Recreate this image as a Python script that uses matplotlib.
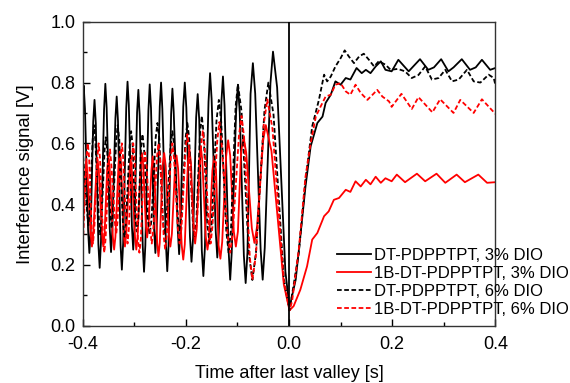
import matplotlib
matplotlib.use("Agg")
import matplotlib.pyplot as plt
from matplotlib.ticker import MultipleLocator

plt.rcParams['font.family'] = ['Liberation Sans', 'DejaVu Sans']

# ---- data ----
labels = ["DT-PDPPTPT, 3% DIO", "1B-DT-PDPPTPT, 3% DIO",
          "DT-PDPPTPT, 6% DIO", "1B-DT-PDPPTPT, 6% DIO"]

# DT-PDPPTPT, 3% DIO (black solid)
t_dt3 = [-0.400, -0.398, -0.3955,
         -0.3895, -0.387, -0.3845,
         -0.3795, -0.377, -0.3745,
         -0.3695, -0.367, -0.3645,
         -0.3585, -0.356, -0.3535,
         -0.3475, -0.345, -0.3425,
         -0.3365, -0.334, -0.3315,
         -0.3265, -0.324, -0.3215,
         -0.3155, -0.313, -0.3105,
         -0.3045, -0.302, -0.2995,
         -0.2945, -0.292, -0.2895,
         -0.2835, -0.281, -0.2785,
         -0.2725, -0.270, -0.2675,
         -0.2615, -0.259, -0.2565,
         -0.2505, -0.248, -0.2455,
         -0.2385, -0.236, -0.2335,
         -0.2285, -0.226, -0.2235,
         -0.2155, -0.213, -0.2105,
         -0.205, -0.202, -0.199,
         -0.192, -0.189, -0.186,
         -0.180, -0.177, -0.174,
         -0.169, -0.166, -0.163,
         -0.156, -0.153, -0.150,
         -0.142, -0.139, -0.136,
         -0.131, -0.128, -0.125,
         -0.117, -0.114, -0.111,
         -0.1025, -0.099, -0.0955,
         -0.0875, -0.084, -0.0805,
         -0.0745, -0.070, -0.0655,
         -0.055, -0.051, -0.047,
         -0.036, -0.031, -0.023,
         -0.007, 0.001,
         0.013, 0.022, 0.032, 0.042, 0.055, 0.065, 0.071, 0.081, 0.090, 0.100,
         0.110, 0.119, 0.131, 0.141, 0.149, 0.158, 0.168, 0.178, 0.187, 0.199,
         0.212, 0.232, 0.242, 0.254, 0.270, 0.281, 0.295, 0.309, 0.319, 0.335,
         0.351, 0.362, 0.374, 0.390, 0.400]
v_dt3 = [0.62, 0.79, 0.713,
         0.316, 0.239, 0.310,
         0.672, 0.743, 0.666,
         0.267, 0.190, 0.275,
         0.711, 0.796, 0.718,
         0.320, 0.242, 0.314,
         0.682, 0.754, 0.674,
         0.264, 0.184, 0.271,
         0.716, 0.803, 0.726,
         0.327, 0.250, 0.324,
         0.702, 0.776, 0.692,
         0.261, 0.177, 0.263,
         0.708, 0.794, 0.716,
         0.317, 0.239, 0.318,
         0.721, 0.800, 0.713,
         0.266, 0.179, 0.263,
         0.696, 0.780, 0.704,
         0.311, 0.235, 0.314,
         0.721, 0.800, 0.717,
         0.293, 0.210, 0.287,
         0.685, 0.762, 0.678,
         0.247, 0.163, 0.257,
         0.737, 0.831, 0.746,
         0.309, 0.224, 0.307,
         0.737, 0.820, 0.726,
         0.245, 0.151, 0.241,
         0.703, 0.793, 0.702,
         0.231, 0.140, 0.241,
         0.763, 0.864, 0.764,
         0.251, 0.151, 0.256,
         0.797, 0.902, 0.784,
         0.178, 0.060,
         0.151, 0.294, 0.458, 0.59, 0.667, 0.688, 0.733, 0.76, 0.804, 0.793,
         0.815, 0.81, 0.848, 0.831, 0.842, 0.831, 0.853, 0.87, 0.842, 0.837,
         0.875, 0.837, 0.855, 0.877, 0.842, 0.85, 0.877, 0.837, 0.85, 0.877,
         0.842, 0.85, 0.875, 0.842, 0.848]

# 1B-DT-PDPPTPT, 3% DIO (red solid)
t_1b3 = [-0.400,
         -0.3955, -0.393, -0.3905,
         -0.3845, -0.382, -0.3795,
         -0.3735, -0.371, -0.3685,
         -0.3625, -0.360, -0.3575,
         -0.3525, -0.350, -0.3475,
         -0.3415, -0.339, -0.3365,
         -0.3305, -0.328, -0.3255,
         -0.3205, -0.318, -0.3155,
         -0.3095, -0.307, -0.3045,
         -0.2985, -0.296, -0.2935,
         -0.2875, -0.285, -0.2825,
         -0.2775, -0.275, -0.2725,
         -0.2665, -0.264, -0.2615,
         -0.2555, -0.253, -0.2505,
         -0.245, -0.242, -0.239,
         -0.233, -0.230, -0.227,
         -0.221, -0.218, -0.215,
         -0.208, -0.205, -0.202,
         -0.196, -0.193, -0.190,
         -0.185, -0.182, -0.179,
         -0.174, -0.171, -0.168,
         -0.1615, -0.158, -0.1545,
         -0.1485, -0.145, -0.1415,
         -0.1365, -0.133, -0.1295,
         -0.122, -0.118, -0.114,
         -0.107, -0.103, -0.099,
         -0.093, -0.088, -0.083,
         -0.072, -0.067, -0.062,
         -0.050, -0.045, -0.034,
         -0.010, 0.001,
         0.009, 0.022, 0.035, 0.045, 0.055, 0.068, 0.077, 0.087, 0.097, 0.110,
         0.119, 0.129, 0.139, 0.149, 0.158, 0.168, 0.178, 0.187, 0.199, 0.209,
         0.225, 0.248, 0.264, 0.286, 0.303, 0.325, 0.341, 0.367, 0.384, 0.400]
v_1b3 = [0.28,
         0.498, 0.540, 0.498,
         0.302, 0.260, 0.302,
         0.504, 0.546, 0.504,
         0.302, 0.260, 0.302,
         0.515, 0.557, 0.515,
         0.292, 0.250, 0.292,
         0.531, 0.573, 0.531,
         0.302, 0.260, 0.302,
         0.504, 0.546, 0.504,
         0.292, 0.250, 0.292,
         0.526, 0.568, 0.526,
         0.330, 0.290, 0.330,
         0.515, 0.557, 0.515,
         0.272, 0.228, 0.272,
         0.526, 0.568, 0.526,
         0.302, 0.260, 0.302,
         0.517, 0.560, 0.517,
         0.265, 0.217, 0.267,
         0.535, 0.580, 0.535,
         0.315, 0.270, 0.315,
         0.545, 0.590, 0.543,
         0.295, 0.250, 0.294,
         0.510, 0.557, 0.510,
         0.265, 0.220, 0.275,
         0.555, 0.610, 0.560,
         0.310, 0.260, 0.310,
         0.570, 0.620, 0.570,
         0.320, 0.272, 0.325,
         0.610, 0.660, 0.575,
         0.135, 0.050,
         0.064, 0.118, 0.195, 0.283, 0.305, 0.36, 0.376, 0.414, 0.42, 0.447,
         0.44, 0.475, 0.458, 0.48, 0.465, 0.49, 0.47, 0.485, 0.475, 0.497,
         0.472, 0.50, 0.475, 0.50, 0.47, 0.497, 0.472, 0.497, 0.47, 0.472]

# DT-PDPPTPT, 6% DIO (black dashed)
t_dt6 = [-0.400,
         -0.3915, -0.389, -0.3865,
         -0.3805, -0.378, -0.3755,
         -0.3685, -0.366, -0.3635,
         -0.3575, -0.355, -0.3525,
         -0.3465, -0.344, -0.3415,
         -0.335, -0.332, -0.329,
         -0.322, -0.319, -0.316,
         -0.309, -0.306, -0.303,
         -0.298, -0.295, -0.292,
         -0.287, -0.284, -0.281,
         -0.2735, -0.270, -0.2665,
         -0.2585, -0.255, -0.2515,
         -0.2445, -0.241, -0.2375,
         -0.2295, -0.226, -0.2225,
         -0.2155, -0.212, -0.2085,
         -0.2005, -0.197, -0.1935,
         -0.1865, -0.183, -0.1795,
         -0.1725, -0.169, -0.1655,
         -0.158, -0.154, -0.150,
         -0.1405, -0.136, -0.1315,
         -0.1215, -0.117, -0.1125,
         -0.1035, -0.099, -0.092,
         -0.078, -0.071, -0.064,
         -0.0475, -0.040, -0.030,
         -0.010, 0.001,
         0.019, 0.032, 0.045, 0.058, 0.068, 0.074, 0.081, 0.090, 0.100, 0.108,
         0.116, 0.126, 0.136, 0.145, 0.155, 0.165, 0.174, 0.187, 0.197, 0.211,
         0.225, 0.238, 0.251, 0.264, 0.277, 0.290, 0.303, 0.316, 0.329, 0.345,
         0.358, 0.371, 0.387, 0.397, 0.400]
v_dt6 = [0.58,
         0.378, 0.330, 0.378,
         0.612, 0.660, 0.612,
         0.348, 0.300, 0.348,
         0.578, 0.620, 0.578,
         0.366, 0.320, 0.366,
         0.612, 0.660, 0.612,
         0.340, 0.290, 0.340,
         0.592, 0.640, 0.592,
         0.356, 0.310, 0.356,
         0.584, 0.630, 0.584,
         0.350, 0.300, 0.350,
         0.617, 0.667, 0.617,
         0.348, 0.300, 0.348,
         0.592, 0.640, 0.592,
         0.358, 0.310, 0.358,
         0.617, 0.667, 0.617,
         0.345, 0.290, 0.345,
         0.632, 0.690, 0.632,
         0.330, 0.270, 0.335,
         0.675, 0.743, 0.673,
         0.310, 0.240, 0.315,
         0.720, 0.795, 0.705,
         0.240, 0.150, 0.240,
         0.709, 0.800, 0.695,
         0.155, 0.050,
         0.239, 0.48, 0.656, 0.743, 0.826, 0.804, 0.82, 0.853, 0.88, 0.906,
         0.886, 0.864, 0.886, 0.895, 0.875, 0.853, 0.87, 0.859, 0.842, 0.845,
         0.837, 0.815, 0.825, 0.853, 0.81, 0.815, 0.842, 0.804, 0.81, 0.842,
         0.804, 0.80, 0.826, 0.815, 0.793]

# 1B-DT-PDPPTPT, 6% DIO (red dashed)
t_1b6 = [-0.400,
         -0.3925, -0.390, -0.3875,
         -0.3825, -0.380, -0.3775,
         -0.3715, -0.369, -0.3665,
         -0.3605, -0.358, -0.3555,
         -0.3495, -0.347, -0.3445,
         -0.3375, -0.335, -0.3325,
         -0.3265, -0.324, -0.3215,
         -0.3155, -0.313, -0.3105,
         -0.3045, -0.302, -0.2995,
         -0.293, -0.290, -0.287,
         -0.282, -0.279, -0.276,
         -0.269, -0.266, -0.263,
         -0.256, -0.253, -0.250,
         -0.243, -0.240, -0.237,
         -0.229, -0.226, -0.223,
         -0.2155, -0.212, -0.2085,
         -0.2005, -0.197, -0.1935,
         -0.1855, -0.182, -0.1785,
         -0.1705, -0.167, -0.1635,
         -0.1555, -0.152, -0.1485,
         -0.139, -0.135, -0.131,
         -0.119, -0.114, -0.109,
         -0.097, -0.092, -0.087,
         -0.076, -0.071, -0.064,
         -0.049, -0.042, -0.032,
         -0.010, 0.001, 0.006,
         0.019, 0.032, 0.042, 0.052, 0.061, 0.071, 0.081, 0.090, 0.100, 0.110,
         0.119, 0.129, 0.139, 0.152, 0.162, 0.171, 0.181, 0.194, 0.199, 0.218,
         0.238, 0.251, 0.278, 0.293, 0.319, 0.332, 0.358, 0.374, 0.400]
v_1b6 = [0.25,
         0.553, 0.600, 0.553,
         0.317, 0.270, 0.317,
         0.553, 0.600, 0.553,
         0.287, 0.240, 0.287,
         0.533, 0.580, 0.533,
         0.340, 0.300, 0.340,
         0.553, 0.600, 0.553,
         0.317, 0.270, 0.317,
         0.553, 0.600, 0.553,
         0.287, 0.240, 0.287,
         0.523, 0.570, 0.523,
         0.317, 0.270, 0.317,
         0.553, 0.600, 0.553,
         0.297, 0.250, 0.297,
         0.553, 0.600, 0.553,
         0.320, 0.270, 0.320,
         0.580, 0.630, 0.580,
         0.340, 0.290, 0.340,
         0.590, 0.640, 0.590,
         0.325, 0.270, 0.325,
         0.610, 0.670, 0.610,
         0.300, 0.240, 0.305,
         0.625, 0.690, 0.620,
         0.226, 0.151, 0.234,
         0.662, 0.745, 0.648,
         0.147, 0.050, 0.080,
         0.25, 0.49, 0.60, 0.688, 0.72, 0.754, 0.76, 0.793, 0.798, 0.771,
         0.76, 0.793, 0.766, 0.743, 0.76, 0.776, 0.754, 0.738, 0.72, 0.763,
         0.713, 0.752, 0.702, 0.745, 0.70, 0.743, 0.70, 0.745, 0.697]

x_ticks = [-0.4, -0.2, 0.0, 0.2, 0.4]
y_ticks = [0.0, 0.2, 0.4, 0.6, 0.8, 1.0]

# ---- figure ----
fig = plt.figure(figsize=(5.70, 3.83), dpi=100)
ax = fig.add_axes([0.145, 0.150, 0.724, 0.793])

lw = 1.3
dash = (0, (2.6, 1.4))
common = dict(lw=lw, solid_joinstyle='round', dash_joinstyle='round')
ax.plot(t_dt3, v_dt3, color='black', label=labels[0], **common)
ax.plot(t_1b3, v_1b3, color='#ff0000', label=labels[1], **common)
ax.plot(t_dt6, v_dt6, color='black', linestyle=dash, label=labels[2], **common)
ax.plot(t_1b6, v_1b6, color='#ff0000', linestyle=dash, label=labels[3], **common)
ax.axvline(0.0, color='black', lw=1.3, zorder=5)

ax.set_xlim(-0.4, 0.4)
ax.set_ylim(0.0, 1.0)
ax.set_xticks(x_ticks)
ax.set_xticklabels([f"{v:.1f}" for v in x_ticks])
ax.set_yticks(y_ticks)
ax.set_yticklabels([f"{v:.1f}" for v in y_ticks])
ax.xaxis.set_minor_locator(MultipleLocator(0.1))
ax.yaxis.set_minor_locator(MultipleLocator(0.1))
ax.tick_params(which='both', direction='in', top=False, right=False,
               labelsize=13, width=1.0, colors='black')
ax.tick_params(axis='x', which='major', pad=7.5)
ax.tick_params(axis='y', which='major', pad=5)
ax.tick_params(which='major', length=5)
ax.tick_params(which='minor', length=3)
for s in ax.spines.values():
    s.set_linewidth(1.0)
    s.set_color('#333333')

ax.set_xlabel("Time after last valley [s]", fontsize=13, labelpad=8.5)
ax.set_ylabel("Interference signal [V]", fontsize=13.3, labelpad=12)

leg = ax.legend(loc='lower right', frameon=False, fontsize=12,
                handlelength=2.0, handletextpad=0.2, labelspacing=0.19,
                borderpad=0.0, borderaxespad=0.0,
                bbox_to_anchor=(0.998, 0.172), bbox_transform=fig.transFigure)

fig.savefig("out.png", dpi=100)
